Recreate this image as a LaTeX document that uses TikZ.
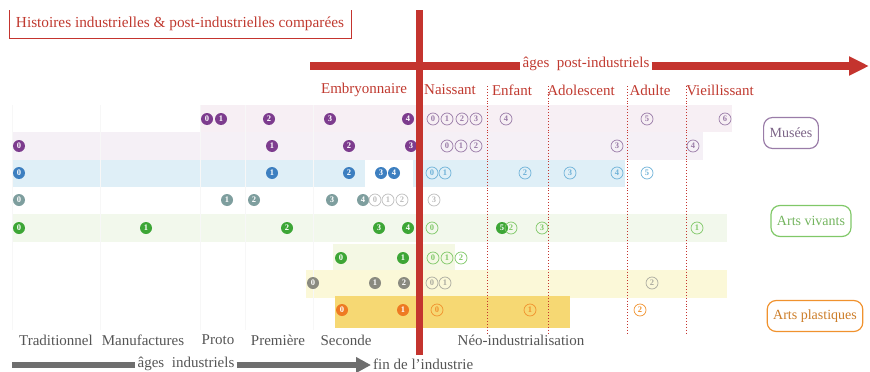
\documentclass[tikz,border=0pt]{standalone}
\usepackage{fontspec}
\setmainfont{Liberation Serif}
\usetikzlibrary{arrows.meta}
\definecolor{rd}{HTML}{C4342E}
\definecolor{rdtxt}{HTML}{C0392F}
\definecolor{purp}{HTML}{7D3C8E}
\definecolor{purpo}{HTML}{9A7CA8}
\definecolor{blu}{HTML}{3D7FC0}
\definecolor{bluo}{HTML}{6FB2D8}
\definecolor{teal}{HTML}{7E9E9E}
\definecolor{tealo}{HTML}{BDBDBD}
\definecolor{grn}{HTML}{3DA636}
\definecolor{grno}{HTML}{80C868}
\definecolor{gry}{HTML}{8A8A80}
\definecolor{gryo}{HTML}{ABABA0}
\definecolor{org}{HTML}{EE7A22}
\definecolor{orgo}{HTML}{F0922E}
\definecolor{bgA}{HTML}{F7EFF4}
\definecolor{bgB}{HTML}{F5F0F6}
\definecolor{bgC}{HTML}{DFEFF7}
\definecolor{bgE}{HTML}{F2F8EC}
\definecolor{bgF}{HTML}{F4F8E4}
\definecolor{bgG}{HTML}{FBF8D8}
\definecolor{bgH}{HTML}{F6D873}
\definecolor{axgrey}{HTML}{6E6E6E}
\definecolor{labgrey}{HTML}{555555}
\newcommand{\dotfont}{\fontsize{8.5}{8.5}\selectfont\bfseries}
\newcommand{\lblfont}{\fontsize{15}{15}\selectfont}
\tikzset{
  dotf/.style={circle, fill=#1, text=white, minimum size=12pt, inner sep=0pt, font=\dotfont},
  doto/.style={circle, draw=#1, line width=0.7pt, text=#1, minimum size=12pt, inner sep=0pt, font=\dotfont},
  stage/.style={text=rdtxt, font=\lblfont, inner sep=0pt},
  era/.style={text=labgrey, font=\lblfont, inner sep=0pt},
  band/.style={fill=#1, draw=none},
  sep/.style={draw=rd, dotted, line width=0.9pt},
  legend/.style={draw=#1, rounded corners=9pt, line width=1.2pt, minimum height=31pt, inner xsep=6pt, font=\fontsize{14}{14}\selectfont},
  faint/.style={draw=black!3, line width=0.6pt}
}
\begin{document}
\begin{tikzpicture}[x=1pt,y=-1pt]
\useasboundingbox (0,0) rectangle (870,372);
% background bands
\fill[band=bgA] (200,105) rectangle (732,132);
\fill[band=bgB] (12,132) rectangle (703,160);
\fill[band=bgC] (12,160) rectangle (365,187);
\fill[band=bgC] (413,160) rectangle (625,187);
\fill[band=bgE] (12,214) rectangle (727,242);
\fill[band=bgF] (333,244) rectangle (455,272);
\fill[band=bgG] (306,270) rectangle (727,298);
\fill[band=bgH] (335,296) rectangle (570,328);
% faint column separators
\foreach \x in {12,100,200,245,313} \draw[faint] (\x,105) -- (\x,330);
% title
\node[text=rdtxt, font=\fontsize{15.3}{15.3}\selectfont, inner sep=0pt] (title) at (180,24) {Histoires industrielles \& post-industrielles comparées};
\coordinate (tA) at (9,10); \coordinate (tB) at (9,38); \coordinate (tC) at (351,38); \coordinate (tD) at (351,10);
\draw[rd, line width=1pt] (tA) -- (tB) -- (tC) -- (tD);
% stage labels
\node[stage] (emb) at (364,90) {Embryonnaire};
\node[stage] (nai) at (450,90) {Naissant};
\node[stage] (enf) at (512,90) {Enfant};
\node[stage] (ado) at (581,90) {Adolescent};
\node[stage] (adu) at (650,90) {Adulte};
\node[stage] (vie) at (720,90) {Vieillissant};
% dotted separators
\foreach \x/\n in {487/a,548/b,627/c,686/d}{
  \coordinate (s\n t) at (\x,86); \coordinate (s\n b) at (\x,333);
  \draw[sep] (s\n t) -- (s\n b);
}
% row 1
\foreach \n/\x in {0/207,1/221,2/269,3/330,4/408} \node[dotf=purp, name=r1f\n] at (\x,119) {\n};
\foreach \n/\x in {0/433,1/447,2/462,3/476,4/506,5/647,6/725} \node[doto=purpo, name=r1o\n] at (\x,119) {\n};
% row 2
\foreach \n/\x in {0/19,1/272,2/349,3/411} \node[dotf=purp, name=r2f\n] at (\x,146) {\n};
\foreach \n/\x in {0/447,1/461,2/476,3/617,4/693} \node[doto=purpo, name=r2o\n] at (\x,146) {\n};
% row 3
\foreach \n/\x in {0/19,1/272,2/349,3/381,4/394} \node[dotf=blu, name=r3f\n] at (\x,173) {\n};
\foreach \n/\x in {0/432,1/445,2/525,3/570,4/617,5/647} \node[doto=bluo, name=r3o\n] at (\x,173) {\n};
% row 4
\foreach \n/\x in {0/19,1/227,2/254,3/332,4/363} \node[dotf=teal, name=r4f\n] at (\x,200) {\n};
\foreach \n/\x in {0/375,1/388,2/402,3/434} \node[doto=tealo, name=r4o\n] at (\x,200) {\n};
% row 5
\foreach \n/\x in {0/19,1/146,2/287,3/379,4/408,5/502} \node[dotf=grn, name=r5f\n] at (\x,228) {\n};
\foreach \n/\x in {0/432,2/511,3/542,1/697} \node[doto=grno, name=r5o\n] at (\x,228) {\n};
% row 6
\foreach \n/\x in {0/341,1/403} \node[dotf=grn, name=r6f\n] at (\x,258) {\n};
\foreach \n/\x in {0/433,1/447,2/461} \node[doto=grno, name=r6o\n] at (\x,258) {\n};
% row 7
\foreach \n/\x in {0/313,1/375,2/404} \node[dotf=gry, name=r7f\n] at (\x,283) {\n};
\foreach \n/\x in {0/432,1/445,2/652} \node[doto=gryo, name=r7o\n] at (\x,283) {\n};
% row 8
\foreach \n/\x in {0/342,1/403} \node[dotf=org, name=r8f\n] at (\x,310) {\n};
\foreach \n/\x in {0/437,1/530,2/640} \node[doto=orgo, name=r8o\n] at (\x,310) {\n};
% big red cross
\coordinate (vtop) at (419,10); \coordinate (vbot) at (419,355);
\draw[rd, line width=7pt] (vtop) -- (vbot);
\node[text=rdtxt, font=\lblfont, inner sep=2pt] (apt) at (586,64) {âges\ \ post-industriels};
\coordinate (hs) at (310,66); \coordinate (he) at (869,66);
\draw[rd, line width=8pt] (hs) -- (hs -| apt.west);
\draw[rd, line width=8pt, -{Triangle[length=20pt,width=18pt]}] (he -| apt.east) -- (he);
% era labels
\node[era] (trad) at (56,340) {Traditionnel};
\node[era] (manu) at (143,340) {Manufactures};
\node[era] (prot) at (218,340) {Proto};
\node[era] (prem) at (278,340) {Première};
\node[era] (seco) at (346,340) {Seconde};
\node[era] (neo) at (521,340) {Néo-industrialisation};
% bottom grey arrow
\node[text=labgrey, font=\lblfont, inner sep=2pt] (ai) at (186,364) {âges\ \ industriels};
\coordinate (gs) at (12,365); \coordinate (ge) at (371,365);
\draw[axgrey, line width=6pt] (gs) -- (gs -| ai.west);
\draw[axgrey, line width=6pt, -{Triangle[length=15pt,width=15pt]}] (ge -| ai.east) -- (ge);
\node[text=labgrey, font=\lblfont, inner sep=0pt, anchor=west] (fin) at (373,364) {fin de l'industrie};
% legend
\node[legend=purpo, text=purpo!80!black] (mus) at (791,133) {Musées};
\node[legend=grno, text=grno!90!black] (viv) at (811,221) {Arts vivants};
\node[legend=orgo, text=orgo!85!black] (pla) at (815,316) {Arts plastiques};
\end{tikzpicture}
\end{document}
